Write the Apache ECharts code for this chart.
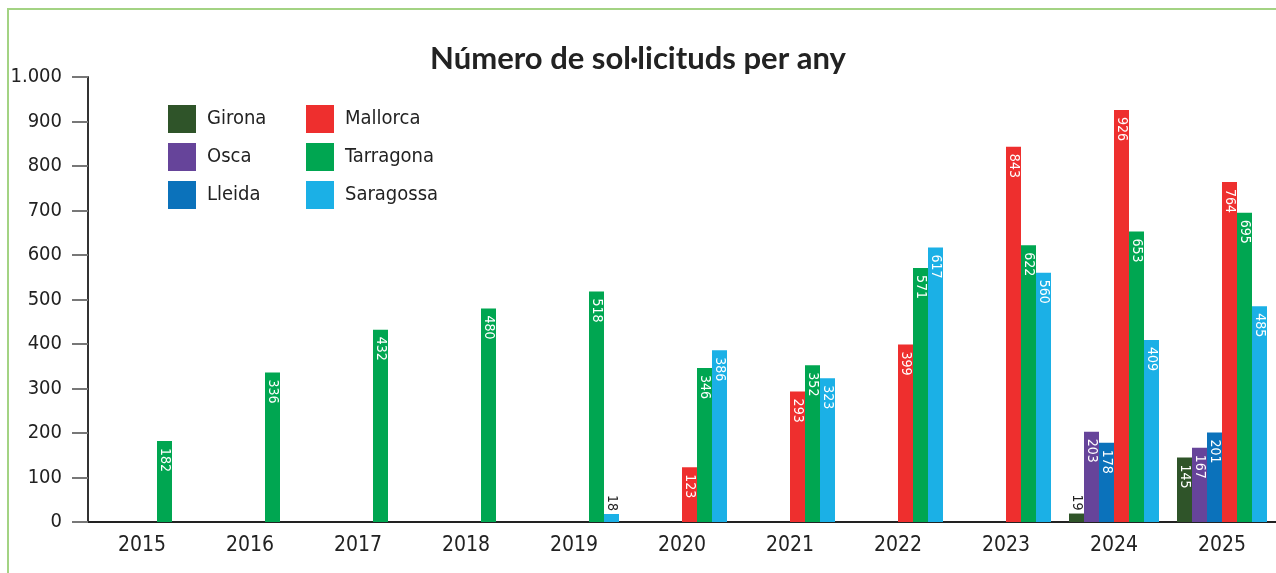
<!DOCTYPE html>
<html>
<head>
<meta charset="utf-8">
<script src="https://cdn.jsdelivr.net/npm/echarts@6/dist/echarts.min.js"></script>
<style>
  html, body { margin: 0; padding: 0; background: #fff; }
  #frame { position: absolute; left: 7px; top: 8px; width: 1300px; height: 600px; border: 2px solid #a3d383; box-sizing: border-box; }
  #chart { position: absolute; left: 0; top: 0; width: 1276px; height: 573px; }
</style>
</head>
<body>
<div id="frame"></div>
<div id="chart"></div>
<script type="text/javascript">
    var years = ['2015', '2016', '2017', '2018', '2019', '2020', '2021', '2022', '2023', '2024', '2025'];
    var girona    = [null, null, null, null, null, null, null, null, null, 19, 145];
    var osca      = [null, null, null, null, null, null, null, null, null, 203, 167];
    var lleida    = [null, null, null, null, null, null, null, null, null, 178, 201];
    var mallorca  = [null, null, null, null, null, 123, 293, 399, 843, 926, 764];
    var tarragona = [182, 336, 432, 480, 518, 346, 352, 571, 622, 653, 695];
    var saragossa = [null, null, null, null, 18, 386, 323, 617, 560, 409, 485];

    var font = "'DejaVu Sans Condensed', 'Liberation Sans Narrow', sans-serif";

    // small bars get their label above the bar in dark text
    function withLabels(values) {
        return values.map(function (v) {
            if (v !== null && v < 40) {
                return {
                    value: v,
                    label: { position: 'top', align: 'right', verticalAlign: 'middle', color: '#222', distance: 3 }
                };
            }
            return v;
        });
    }

    function bar(name, color, values) {
        return {
            name: name,
            type: 'bar',
            barWidth: 15,
            barGap: '0%',
            itemStyle: { color: color },
            label: {
                show: true,
                position: 'insideTop',
                rotate: -90,
                align: 'left',
                verticalAlign: 'middle',
                distance: 7,
                color: '#fff',
                fontFamily: font,
                fontSize: 14
            },
            data: withLabels(values)
        };
    }

    var legendText = { fontFamily: font, fontSize: 20, color: '#222', padding: [0, 0, 0, 6] };

    var myChart = echarts.init(document.getElementById('chart'));
    var option = {
        animation: false,
        title: {
            text: 'Número de sol·licituds per any',
            left: 'center',
            top: 38,
            textStyle: { fontFamily: "'Lato', 'DejaVu Sans', sans-serif", fontWeight: 'bold', fontSize: 31, color: '#222' }
        },
        legend: [
            {
                data: ['Girona', 'Osca', 'Lleida'],
                orient: 'vertical',
                icon: 'rect',
                padding: 0,
                left: 168, top: 105,
                itemWidth: 28, itemHeight: 28, itemGap: 10,
                textStyle: legendText
            },
            {
                data: ['Mallorca', 'Tarragona', 'Saragossa'],
                orient: 'vertical',
                icon: 'rect',
                padding: 0,
                left: 306, top: 105,
                itemWidth: 28, itemHeight: 28, itemGap: 10,
                textStyle: legendText
            }
        ],
        grid: { left: 88, right: 0, top: 77, bottom: 51 },
        xAxis: {
            type: 'category',
            data: years,
            axisLine: { lineStyle: { color: '#222', width: 2 } },
            axisTick: { show: false },
            axisLabel: { fontFamily: font, fontSize: 21, color: '#222', margin: 13 }
        },
        yAxis: {
            type: 'value',
            min: 0,
            max: 1000,
            interval: 100,
            splitLine: { show: false },
            axisLine: { show: true, lineStyle: { color: '#333', width: 2 } },
            axisTick: { show: true, length: 16, lineStyle: { color: '#777', width: 2 } },
            axisLabel: {
                fontFamily: font, fontSize: 20, color: '#222', margin: 26,
                formatter: function (v) { return v === 1000 ? '1.000' : String(v); }
            }
        },
        series: [
            bar('Girona', '#2f5429', girona),
            bar('Osca', '#66449a', osca),
            bar('Lleida', '#0b72bb', lleida),
            bar('Mallorca', '#ee2f2e', mallorca),
            bar('Tarragona', '#00a651', tarragona),
            bar('Saragossa', '#1bb0e6', saragossa)
        ]
    };
    myChart.setOption(option);
</script>
</body>
</html>
